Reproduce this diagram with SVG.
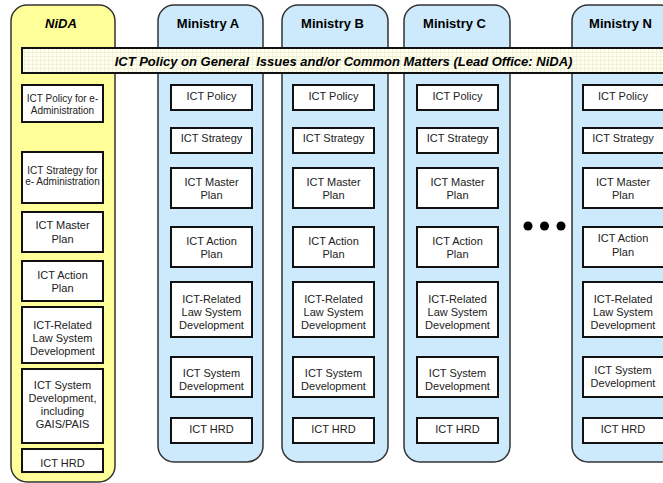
<svg xmlns="http://www.w3.org/2000/svg" width="663" height="483" viewBox="0 0 663 483">
<defs>
<pattern id="grid" width="4" height="4" patternUnits="userSpaceOnUse">
<rect width="4" height="4" fill="#fffff2"/>
<path d="M0 0.5H4M0.5 0V4" stroke="#f1f1d6" stroke-width="1"/>
</pattern>
<style>
.col-n{fill:#ffff99;stroke:#333;stroke-width:1.5}
.col-m{fill:#cceafb;stroke:#333;stroke-width:1.5}
.box{fill:#fff;stroke:#111;stroke-width:2}
.hd{font-family:"Liberation Sans",Arial,sans-serif;font-weight:bold;font-size:13px;text-anchor:middle;fill:#000}
.t{font-family:"Liberation Sans",Arial,sans-serif;font-size:11px;text-anchor:middle;fill:#222}
.ts{font-family:"Liberation Sans",Arial,sans-serif;font-size:10px;text-anchor:middle;fill:#222}
.ban{font-family:"Liberation Sans",Arial,sans-serif;font-weight:bold;font-style:italic;font-size:13px;text-anchor:middle;fill:#000}
</style>
</defs>
<rect width="663" height="483" fill="#fff"/>

<g id="nida">
<rect class="col-n" x="11" y="5" width="104" height="477" rx="16"/>
<text class="hd" x="61" y="28" font-style="italic">NiDA</text>
<rect class="box" x="22" y="85" width="81" height="37"/>
<text class="ts" x="62.5" y="101.5">ICT Policy for e-</text>
<text class="ts" x="62.5" y="113.5">Administration</text>
<rect class="box" x="22" y="152" width="81" height="51"/>
<text class="ts" x="62.5" y="173.5">ICT Strategy for</text>
<text class="ts" x="62.5" y="184.5">e- Administration</text>
<rect class="box" x="22" y="212" width="81" height="40"/>
<text class="t" x="62.5" y="229">ICT Master</text>
<text class="t" x="62.5" y="243">Plan</text>
<rect class="box" x="22" y="261" width="81" height="40"/>
<text class="t" x="62.5" y="279">ICT Action</text>
<text class="t" x="62.5" y="292">Plan</text>
<rect class="box" x="22" y="307" width="81" height="56"/>
<text class="t" x="62.5" y="329">ICT-Related</text>
<text class="t" x="62.5" y="341.5">Law System</text>
<text class="t" x="62.5" y="355">Development</text>
<rect class="box" x="22" y="369" width="81" height="74"/>
<text class="t" x="62.5" y="389">ICT System</text>
<text class="t" x="62.5" y="401.5">Development,</text>
<text class="t" x="62.5" y="415">including</text>
<text class="t" x="62.5" y="428">GAIS/PAIS</text>
<rect class="box" x="22" y="449" width="81" height="23"/>
<text class="t" x="62.5" y="467">ICT HRD</text>
</g>

<g id="ministry-a">
<rect class="col-m" x="158" y="5" width="105" height="457" rx="16"/>
<text class="hd" x="208" y="28">Ministry A</text>
<g transform="translate(171,0)">
<rect class="box" x="0" y="85" width="81" height="25"/>
<text class="t" x="40.5" y="100">ICT Policy</text>
<rect class="box" x="0" y="128" width="81" height="25"/>
<text class="t" x="40.5" y="142">ICT Strategy</text>
<rect class="box" x="0" y="168" width="81" height="40"/>
<text class="t" x="40.5" y="186">ICT Master</text>
<text class="t" x="40.5" y="199">Plan</text>
<rect class="box" x="0" y="227" width="81" height="40"/>
<text class="t" x="40.5" y="244.5">ICT Action</text>
<text class="t" x="40.5" y="258">Plan</text>
<rect class="box" x="0" y="282" width="81" height="55"/>
<text class="t" x="40.5" y="303">ICT-Related</text>
<text class="t" x="40.5" y="316">Law System</text>
<text class="t" x="40.5" y="329">Development</text>
<rect class="box" x="0" y="357" width="81" height="40"/>
<text class="t" x="40.5" y="377">ICT System</text>
<text class="t" x="40.5" y="389.5">Development</text>
<rect class="box" x="0" y="418" width="81" height="25"/>
<text class="t" x="40.5" y="433">ICT HRD</text>
</g>
</g>

<g id="ministry-b">
<rect class="col-m" x="282" y="5" width="106" height="457" rx="16"/>
<text class="hd" x="332.5" y="28">Ministry B</text>
<g transform="translate(293,0)">
<rect class="box" x="0" y="85" width="81" height="25"/>
<text class="t" x="40.5" y="100">ICT Policy</text>
<rect class="box" x="0" y="128" width="81" height="25"/>
<text class="t" x="40.5" y="142">ICT Strategy</text>
<rect class="box" x="0" y="168" width="81" height="40"/>
<text class="t" x="40.5" y="186">ICT Master</text>
<text class="t" x="40.5" y="199">Plan</text>
<rect class="box" x="0" y="227" width="81" height="40"/>
<text class="t" x="40.5" y="244.5">ICT Action</text>
<text class="t" x="40.5" y="258">Plan</text>
<rect class="box" x="0" y="282" width="81" height="55"/>
<text class="t" x="40.5" y="303">ICT-Related</text>
<text class="t" x="40.5" y="316">Law System</text>
<text class="t" x="40.5" y="329">Development</text>
<rect class="box" x="0" y="357" width="81" height="40"/>
<text class="t" x="40.5" y="377">ICT System</text>
<text class="t" x="40.5" y="389.5">Development</text>
<rect class="box" x="0" y="418" width="81" height="25"/>
<text class="t" x="40.5" y="433">ICT HRD</text>
</g>
</g>

<g id="ministry-c">
<rect class="col-m" x="404" y="5" width="106" height="457" rx="16"/>
<text class="hd" x="454.5" y="28">Ministry C</text>
<g transform="translate(417,0)">
<rect class="box" x="0" y="85" width="81" height="25"/>
<text class="t" x="40.5" y="100">ICT Policy</text>
<rect class="box" x="0" y="128" width="81" height="25"/>
<text class="t" x="40.5" y="142">ICT Strategy</text>
<rect class="box" x="0" y="168" width="81" height="40"/>
<text class="t" x="40.5" y="186">ICT Master</text>
<text class="t" x="40.5" y="199">Plan</text>
<rect class="box" x="0" y="227" width="81" height="40"/>
<text class="t" x="40.5" y="244.5">ICT Action</text>
<text class="t" x="40.5" y="258">Plan</text>
<rect class="box" x="0" y="282" width="81" height="55"/>
<text class="t" x="40.5" y="303">ICT-Related</text>
<text class="t" x="40.5" y="316">Law System</text>
<text class="t" x="40.5" y="329">Development</text>
<rect class="box" x="0" y="357" width="81" height="40"/>
<text class="t" x="40.5" y="377">ICT System</text>
<text class="t" x="40.5" y="389.5">Development</text>
<rect class="box" x="0" y="418" width="81" height="25"/>
<text class="t" x="40.5" y="433">ICT HRD</text>
</g>
</g>

<g id="ministry-n">
<rect class="col-m" x="572" y="5" width="104" height="457" rx="16"/>
<text class="hd" x="620.5" y="28">Ministry N</text>
<g transform="translate(583,0)">
<rect class="box" x="0" y="85" width="81" height="25"/>
<text class="t" x="40" y="100">ICT Policy</text>
<rect class="box" x="0" y="128" width="81" height="25"/>
<text class="t" x="40" y="142">ICT Strategy</text>
<rect class="box" x="0" y="168" width="81" height="40"/>
<text class="t" x="40" y="186">ICT Master</text>
<text class="t" x="40" y="199">Plan</text>
<rect class="box" x="0" y="227" width="81" height="40"/>
<text class="t" x="40" y="242">ICT Action</text>
<text class="t" x="40" y="255.5">Plan</text>
<rect class="box" x="0" y="282" width="81" height="55"/>
<text class="t" x="40" y="303">ICT-Related</text>
<text class="t" x="40" y="316">Law System</text>
<text class="t" x="40" y="329">Development</text>
<rect class="box" x="0" y="357" width="81" height="40"/>
<text class="t" x="40" y="374">ICT System</text>
<text class="t" x="40" y="387">Development</text>
<rect class="box" x="0" y="418" width="81" height="25"/>
<text class="t" x="40" y="433">ICT HRD</text>
</g>
</g>

<g id="banner">
<rect x="22" y="48" width="660" height="25" fill="url(#grid)" stroke="#111" stroke-width="2"/>
<text class="ban" x="343.5" y="65.5" xml:space="preserve">ICT Policy on General  Issues and/or Common Matters (Lead Office: NiDA)</text>
</g>

<g id="ellipsis">
<circle cx="528" cy="226" r="4.5" fill="#000"/>
<circle cx="544.5" cy="226" r="4.5" fill="#000"/>
<circle cx="561" cy="226" r="4.5" fill="#000"/>
</g>

<g id="connectors"></g>
</svg>
